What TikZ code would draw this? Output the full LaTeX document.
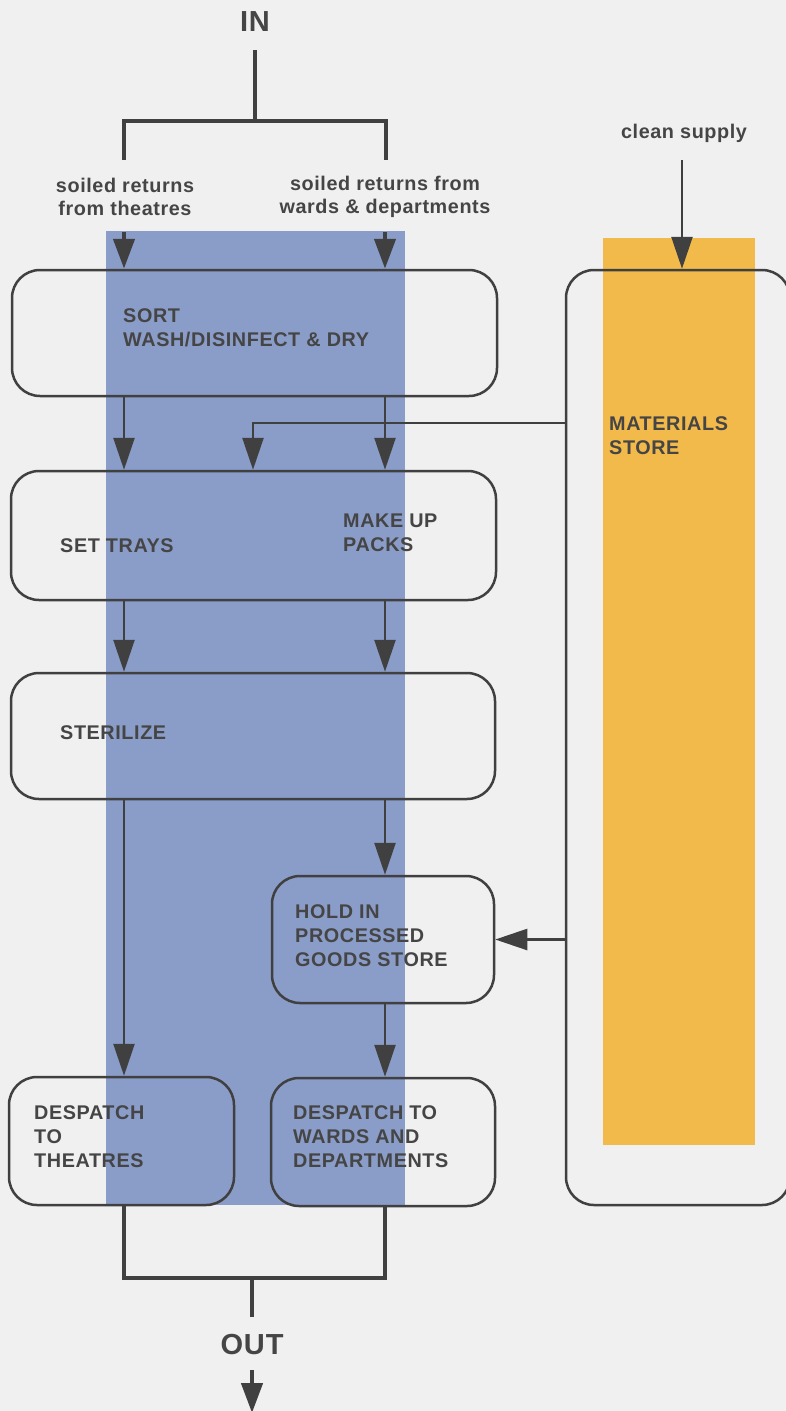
\documentclass[tikz,border=0pt]{standalone}
\usepackage{fontspec}
\setmainfont{Liberation Sans}[LetterSpace=3.0]
\usetikzlibrary{arrows.meta}
\definecolor{bg}{HTML}{F0F0F0}
\definecolor{colblue}{HTML}{8A9CC8}
\definecolor{colorange}{HTML}{F2BA4B}
\definecolor{ink}{HTML}{404040}
\definecolor{txt}{HTML}{454545}
\begin{document}
\begin{tikzpicture}[x=1pt,y=-1pt,
  box/.style={draw=ink, line width=2.5pt, rounded corners=28pt, inner sep=0pt},
  lab/.style={text=txt, font=\bfseries\fontsize{19.8}{24}\selectfont, align=left, inner sep=0pt, anchor=north west},
  small/.style={text=txt, font=\bfseries\fontsize{19.8}{23}\selectfont, align=center, inner sep=0pt},
  big/.style={text=txt, font=\bfseries\fontsize{29}{34}\selectfont, inner sep=0pt},
  arr/.style={draw=ink, line width=2.5pt, -{Triangle[width=21pt,length=32pt]}},
  thickarr/.style={draw=ink, line width=4.5pt, -{Triangle[width=21pt,length=30pt]}},
  thickline/.style={draw=ink, line width=4.5pt},
]
\path[use as bounding box] (0,0) rectangle (786,1411);
\clip (0,0) rectangle (786,1411);
\fill[bg] (0,0) rectangle (786,1411);
% columns
\fill[colblue] (106,231) rectangle (405,1205);
\fill[colorange] (603,238) rectangle (755,1145);
% helper coordinates
\coordinate (cL) at (124,0);
\coordinate (cR) at (385,0);
\coordinate (cM) at (253,0);
\coordinate (cS) at (682,0);
\coordinate (matline) at (0,423);
% boxes
\node[box, minimum width=485pt, minimum height=126pt] (sort) at (254.5,333) {};
\node[box, minimum width=485pt, minimum height=129pt] (set) at (253.5,535.5) {};
\node[box, minimum width=484pt, minimum height=126pt] (ster) at (253,736) {};
\node[box, minimum width=222pt, minimum height=127pt] (hold) at (383,939.5) {};
\node[box, minimum width=225pt, minimum height=128pt] (desT) at (121.5,1141) {};
\node[box, minimum width=224pt, minimum height=128pt] (desW) at (383,1142) {};
\node[box, minimum width=224pt, minimum height=935pt] (mat) at (678,737.5) {};
% texts
\node[big] (in) at (255,22) {IN};
\node[big] (out) at (252,1345) {OUT};
\node[small] (labT) at (125,196.5) {soiled returns\\from theatres};
\node[small] (labW) at (385,196.5) {soiled returns from\\wards \& departments};
\node[small] (clean) at (684,133) {clean supply};
\node[lab] (tsort) at (123,308) {SORT\\WASH/DISINFECT \& DRY};
\node[lab] (tset) at (60,538) {SET TRAYS};
\node[lab] (tpack) at (343,514) {MAKE UP\\PACKS};
\node[lab] (tster) at (60,725) {STERILIZE};
\node[lab] (tmat) at (609,416) {MATERIALS\\STORE};
\node[lab] (thold) at (295,904) {HOLD IN\\PROCESSED\\GOODS STORE};
\node[lab] (tdesT) at (34,1105) {DESPATCH\\TO\\THEATRES};
\node[lab] (tdesW) at (293,1105) {DESPATCH TO\\WARDS AND\\DEPARTMENTS};
% IN split
\coordinate (inTop) at (255,50);
\coordinate (inJ) at (255,121);
\coordinate (inLb) at (124,160);
\coordinate (inRb) at (386,160);
\draw[thickline] (inTop) -- (inJ);
\draw[thickline] (inLb) |- (inJ) -| (inRb);
% incoming arrows
\coordinate (inL) at (124,232);
\coordinate (inR) at (385,232);
\draw[thickarr] (inL) -- (sort.north -| cL);
\draw[thickarr] (inR) -- (sort.north -| cR);
\coordinate (csTop) at (682,160);
\draw[arr] (csTop) -- (mat.north -| cS);
% flow
\draw[arr] (sort.south -| cL) -- (set.north -| cL);
\draw[arr] (sort.south -| cR) -- (set.north -| cR);
\draw[arr] (mat.west |- matline) -| (set.north -| cM);
\draw[arr] (set.south -| cL) -- (ster.north -| cL);
\draw[arr] (set.south -| cR) -- (ster.north -| cR);
\draw[arr] (ster.south -| cL) -- (desT.north -| cL);
\draw[arr] (ster.south -| cR) -- (hold.north -| cR);
\draw[arr] (hold.south -| cR) -- (desW.north -| cR);
\draw[arr] (mat.west |- hold) -- (hold.east);
% OUT join
\coordinate (outJ) at (252,1278);
\coordinate (outE) at (252,1317);
\draw[thickline] (desT.south -| cL) |- (outJ) -| (desW.south -| cR);
\draw[thickline] (outJ) -- (outE);
\coordinate (outA) at (252,1370);
\coordinate (outTip) at (252,1413);
\draw[thickarr] (outA) -- (outTip);
\end{tikzpicture}
\end{document}
